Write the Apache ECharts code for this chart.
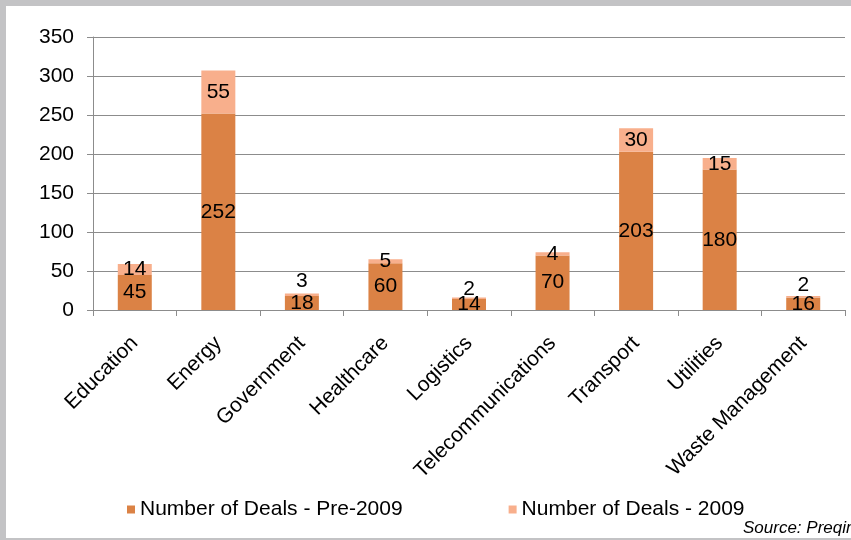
<!DOCTYPE html>
<html><head><meta charset="utf-8">
<script src="https://cdn.jsdelivr.net/npm/echarts@6/dist/echarts.min.js"></script>
<style>
html,body{margin:0;padding:0;width:851px;height:540px;background:#c3c3c5;overflow:hidden}
#c{position:absolute;left:6px;top:6px;width:845px;height:532px;background:#fff}
</style></head>
<body><div id="c"></div>
<script>
const categories = ['Education','Energy','Government','Healthcare','Logistics','Telecommunications','Transport','Utilities','Waste Management'];
const pre2009 = [45,252,18,60,14,70,203,180,16];
const y2009 = [14,55,3,5,2,4,30,15,2];
const yTicks = [0,50,100,150,200,250,300,350];
const seriesNames = ['Number of Deals - Pre-2009','Number of Deals - 2009'];
const aboveDistance = {'Government':2,'Logistics':-2,'Waste Management':0};

const font = 'Liberation Sans, Arial, sans-serif';
const chart = echarts.init(document.getElementById('c'), null, {renderer:'canvas'});
chart.setOption({
  animation:false,
  textStyle:{fontFamily:font},
  grid:{left:87,right:6,top:31,bottom:228,containLabel:false},
  legend:{
    bottom:13,left:116,itemGap:106,itemWidth:8,itemHeight:8,icon:'rect',
    textStyle:{fontSize:21,color:'#000',fontFamily:font},
    data:seriesNames
  },
  xAxis:{
    type:'category',data:categories,
    axisLine:{lineStyle:{color:'#8c8c8c',width:1}},
    axisTick:{show:true,alignWithLabel:false,length:6,lineStyle:{color:'#8c8c8c'}},
    axisLabel:{rotate:45,interval:0,margin:30,fontSize:21,color:'#000',fontFamily:font}
  },
  yAxis:{
    type:'value',min:yTicks[0],max:yTicks[yTicks.length-1],interval:50,
    axisLine:{show:true,lineStyle:{color:'#8c8c8c'}},
    axisTick:{show:true,length:6,lineStyle:{color:'#8c8c8c'}},
    axisLabel:{margin:19,fontSize:21,color:'#000',fontFamily:font},
    splitLine:{lineStyle:{color:'#8c8c8c',width:1}}
  },
  graphic:[{type:'text',left:737,bottom:1,style:{text:'Source: Preqin',font:'italic 17px '+font,fill:'#000'}}],
  series:[
    {name:seriesNames[0],type:'bar',stack:'d',barWidth:34,
     itemStyle:{color:'#db8245'},
     label:{show:true,position:'inside',fontSize:21,color:'#000',fontFamily:font},
     data:pre2009},
    {name:seriesNames[1],type:'bar',stack:'d',barWidth:34,
     itemStyle:{color:'#f8af8c'},
     label:{show:true,position:'inside',fontSize:21,color:'#000',fontFamily:font},
     data:y2009.map((v,i)=>(categories[i] in aboveDistance)?{value:v,label:{position:'top',distance:aboveDistance[categories[i]]}}:v)}
  ]
});
</script></body></html>
